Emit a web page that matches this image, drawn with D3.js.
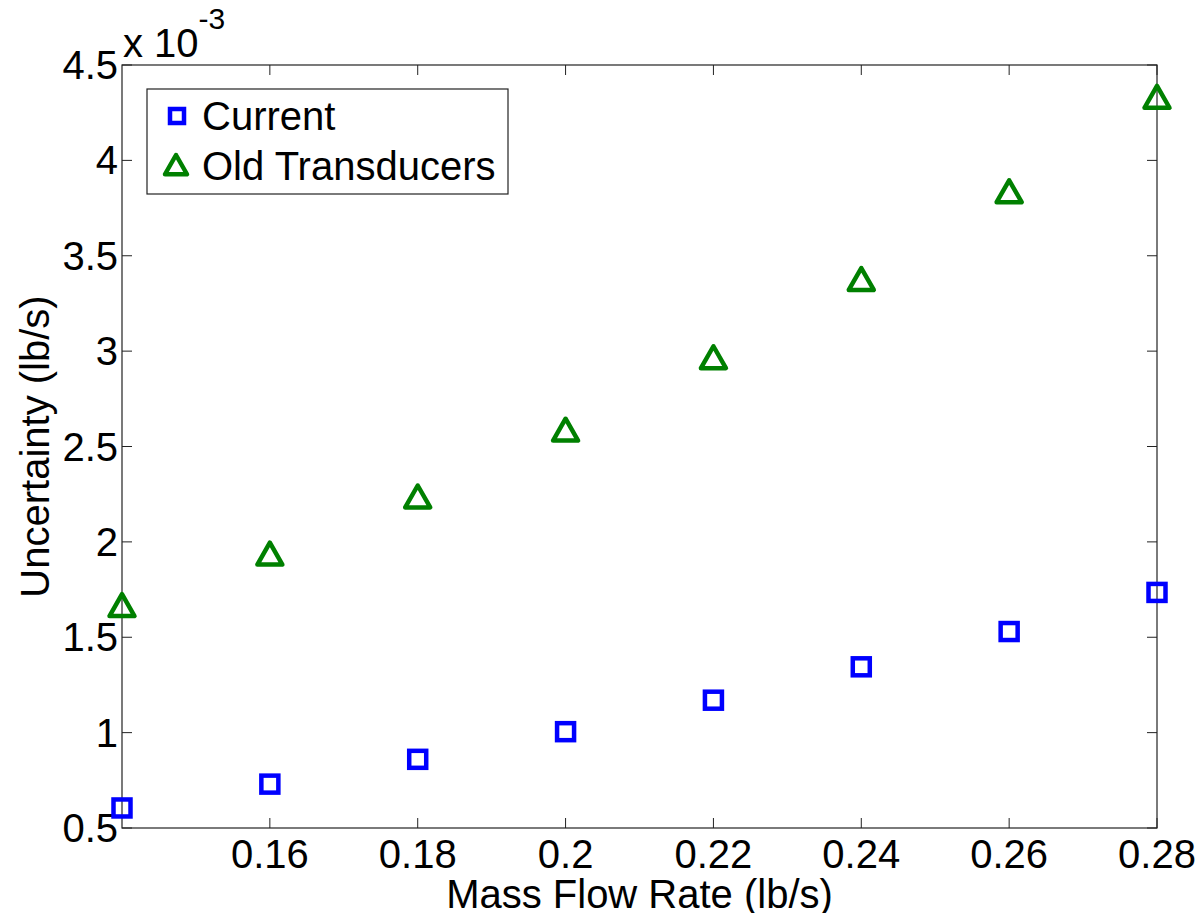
<!DOCTYPE html>
<html>
<head>
<meta charset="utf-8">
<script src="https://cdn.jsdelivr.net/npm/d3@7"></script>
<style>
  body { margin: 0; background: #fff; }
  svg text { font-family: "Liberation Sans", Arial, sans-serif; fill: #000; }
</style>
</head>
<body>
<svg id="chart" width="1201" height="913"></svg>
<script>
// data (uncertainty in units of 1e-3 lb/s)
var flowRates   = [0.14, 0.16, 0.18, 0.20, 0.22, 0.24, 0.26, 0.28];
var currentUnc  = [0.605, 0.73, 0.86, 1.005, 1.17, 1.345, 1.53, 1.735];
var oldUnc      = [1.66, 1.93, 2.23, 2.58, 2.96, 3.37, 3.83, 4.325];
var xTicks      = [0.16, 0.18, 0.20, 0.22, 0.24, 0.26, 0.28];
var yTicks      = [0.5, 1, 1.5, 2, 2.5, 3, 3.5, 4, 4.5];

var pLeft = 122, pRight = 1157, pTop = 65, pBottom = 828;
var FS = "40px";
var svg = d3.select("#chart");

var x = d3.scaleLinear().domain([0.14, 0.28]).range([pLeft, pRight]);
var y = d3.scaleLinear().domain([0.5, 4.5]).range([pBottom, pTop]);

// frame
svg.append("rect")
  .attr("x", pLeft).attr("y", pTop)
  .attr("width", pRight - pLeft).attr("height", pBottom - pTop)
  .style("fill", "none").style("stroke", "#222").style("stroke-width", 1.2);

// ticks (inside, on all four sides)
var tl = 10;
xTicks.forEach(function(t){
  svg.append("line").attr("x1", x(t)).attr("x2", x(t)).attr("y1", pBottom).attr("y2", pBottom - tl)
    .style("stroke", "#222");
  svg.append("line").attr("x1", x(t)).attr("x2", x(t)).attr("y1", pTop).attr("y2", pTop + tl)
    .style("stroke", "#222");
});
yTicks.forEach(function(t){
  svg.append("line").attr("x1", pLeft).attr("x2", pLeft + tl).attr("y1", y(t)).attr("y2", y(t))
    .style("stroke", "#222");
  svg.append("line").attr("x1", pRight).attr("x2", pRight - tl).attr("y1", y(t)).attr("y2", y(t))
    .style("stroke", "#222");
});

// tick labels
svg.selectAll(".xt").data(xTicks).enter().append("text")
  .attr("x", function(d){ return x(d); })
  .attr("y", 868)
  .attr("text-anchor", "middle")
  .style("font-size", FS)
  .text(function(d){ return +d.toFixed(2); });

svg.selectAll(".yt").data(yTicks).enter().append("text")
  .attr("x", 118)
  .attr("y", function(d){ return y(d) + 14; })
  .attr("text-anchor", "end")
  .style("font-size", FS)
  .text(function(d){ return d; });

// exponent
var ex = svg.append("text").attr("x", 123).attr("y", 57).style("font-size", FS);
ex.append("tspan").text("x 10");
ex.append("tspan").attr("dy", -28).style("font-size", "30px").text("-3");

// axis labels
svg.append("text")
  .attr("x", (pLeft + pRight) / 2).attr("y", 908)
  .attr("text-anchor", "middle").style("font-size", FS)
  .text("Mass Flow Rate (lb/s)");
svg.append("text")
  .attr("transform", "translate(49," + ((pTop + pBottom) / 2) + ") rotate(-90)")
  .attr("text-anchor", "middle").style("font-size", FS)
  .text("Uncertainty (lb/s)");

// markers
var blue = "#0000ff", green = "#008000";
function square(g, cx, cy, h) {
  g.append("rect").attr("x", cx - h).attr("y", cy - h).attr("width", 2 * h).attr("height", 2 * h)
    .style("fill", "none").style("stroke", blue).style("stroke-width", 4.5);
}
function triangle(g, cx, cy, s) {
  g.append("path")
    .attr("d", "M" + cx + "," + (cy - s) + "L" + (cx + s) + "," + (cy + s * 0.75) + "L" + (cx - s) + "," + (cy + s * 0.75) + "Z")
    .style("fill", "none").style("stroke", green).style("stroke-width", 4.5).style("stroke-linejoin", "round");
}

var pts = svg.append("g");
flowRates.forEach(function(f, i){
  square(pts, x(f), y(currentUnc[i]), 8.5);
  triangle(pts, x(f), y(oldUnc[i]), 12.5);
});

// legend
svg.append("rect").attr("x", 147).attr("y", 89).attr("width", 361).attr("height", 105)
  .style("fill", "#fff").style("stroke", "#222").style("stroke-width", 1.2);
var lg = svg.append("g");
square(lg, 177, 116, 7);
triangle(lg, 176, 166, 11);
lg.append("text").attr("x", 202).attr("y", 130).style("font-size", FS).text("Current");
lg.append("text").attr("x", 202).attr("y", 180).style("font-size", FS).text("Old Transducers");
</script>
</body>
</html>
